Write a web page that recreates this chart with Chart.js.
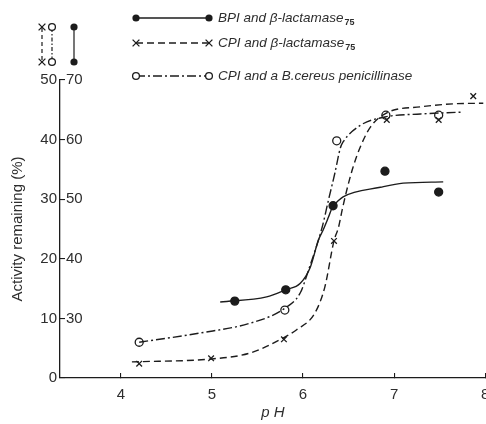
<!DOCTYPE html>
<html><head><meta charset="utf-8">
<script src="https://cdn.jsdelivr.net/npm/chart.js@4"></script>
<style>html,body{margin:0;padding:0;background:#fff}#wrap{width:486px;height:424px;position:relative}</style>
</head><body><div id="wrap"><canvas id="c"></canvas></div>
<script>
// ---- data ----
const seriesNames = ['BPI and \u03B2-lactamase', 'CPI and \u03B2-lactamase', 'CPI and a B.cereus penicillinase'];
const seriesSub = ['75', '75', ''];
// measured points
const bpiPH  = [5.25, 5.81, 6.33, 6.90, 7.49];
const bpiVal = [32.9, 34.8, 48.9, 54.7, 51.2];          // right scale (30-70)
const cpiPH  = [4.20, 4.99, 5.79, 6.34, 6.92, 7.49, 7.87];
const cpiVal = [2.4, 3.3, 6.5, 23.0, 43.3, 43.3, 47.3];  // left scale (0-50)
const cerPH  = [4.20, 5.80, 6.37, 6.91, 7.49];
const cerVal = [6.0, 11.4, 39.8, 44.1, 44.1];           // left scale (0-50)
// fitted curves (traced)
const bpiCurvePH  = [5.09, 5.60, 5.81, 5.97, 6.08, 6.17, 6.22, 6.28, 6.33, 6.37, 6.44, 6.85, 7.10, 7.54];
const bpiCurveVal = [32.75, 33.6, 34.8, 35.9, 38.6, 43.2, 44.8, 47.0, 48.9, 49.5, 50.4, 52.0, 52.7, 52.9];
const cpiCurvePH  = [4.12, 5.00, 5.42, 5.78, 5.93, 6.13, 6.24, 6.34, 6.39, 6.43, 6.48, 6.55, 6.63, 6.74, 6.92, 7.29, 7.65, 7.98];
const cpiCurveVal = [2.7, 3.2, 4.2, 6.7, 8.1, 10.9, 15.3, 23.0, 25.3, 28.2, 31.5, 35.4, 38.8, 42.1, 44.5, 45.5, 46.0, 46.1];
const cerCurvePH  = [4.20, 4.87, 5.42, 5.79, 5.97, 6.06, 6.21, 6.28, 6.35, 6.41, 6.44, 6.63, 6.90, 7.29, 7.73];
const cerCurveVal = [6.0, 7.55, 9.2, 11.6, 14.3, 18.1, 25.3, 29.9, 34.4, 38.6, 39.6, 42.4, 43.8, 44.3, 44.6];
// ticks
const xTicks = [4, 5, 6, 7, 8];
const yLeftTicks = [0, 10, 20, 30, 40, 50];
const yRightTicks = [30, 40, 50, 60, 70];

const INK = '#1c1c1c';
const TXT = '#2e2e2e';
const FONT = '"Liberation Sans", Arial, sans-serif';
const styles = [
  {dash: [], marker: 'filled'},
  {dash: [7, 4], marker: 'cross'},
  {dash: [9, 3, 2, 3], marker: 'open'}
];

function pts(xs, ys){ return xs.map((x,i)=>({x:x, y:ys[i]})); }

function drawMarker(ctx, kind, x, y){
  ctx.save();
  ctx.setLineDash([]);
  ctx.strokeStyle = INK; ctx.fillStyle = INK; ctx.lineWidth = 1.3;
  if (kind === 'filled'){
    ctx.beginPath(); ctx.arc(x, y, 3.6, 0, Math.PI*2); ctx.fill();
  } else if (kind === 'open'){
    ctx.fillStyle = '#fff';
    ctx.beginPath(); ctx.arc(x, y, 3.4, 0, Math.PI*2); ctx.fill(); ctx.stroke();
  } else {
    const r = 3.4;
    ctx.beginPath(); ctx.moveTo(x-r, y-r); ctx.lineTo(x+r, y+r);
    ctx.moveTo(x+r, y-r); ctx.lineTo(x-r, y+r); ctx.stroke();
  }
  ctx.restore();
}

const keyPlugin = {
  id: 'keys',
  afterDraw(chart){
    const ctx = chart.ctx;
    // legend rows
    const rows = [18, 43, 76];
    ctx.save();
    for (let i = 0; i < 3; i++){
      const y = rows[i], x0 = 136, x1 = 209;
      ctx.strokeStyle = INK; ctx.lineWidth = 1.3; ctx.setLineDash(styles[i].dash);
      ctx.beginPath(); ctx.moveTo(x0, y); ctx.lineTo(x1, y); ctx.stroke();
      drawMarker(ctx, styles[i].marker, x0, y);
      drawMarker(ctx, styles[i].marker, x1, y);
      ctx.setLineDash([]);
      ctx.fillStyle = TXT; ctx.textBaseline = 'middle'; ctx.textAlign = 'left';
      ctx.font = 'italic 13.5px ' + FONT;
      ctx.fillText(seriesNames[i], 218, y);
      if (seriesSub[i]){
        const w = ctx.measureText(seriesNames[i]).width;
        ctx.font = 'bold 9px ' + FONT;
        ctx.fillText(seriesSub[i], 218 + w + 1, y + 5);
      }
    }
    // scale keys above the y axis
    const keys = [{x: 42, s: 1}, {x: 52, s: 2}, {x: 74, s: 0}];
    keys.forEach(k => {
      ctx.strokeStyle = INK; ctx.lineWidth = 1.2;
      ctx.setLineDash(k.s === 0 ? [] : (k.s === 1 ? [4, 3] : [4, 2, 1.5, 2]));
      ctx.beginPath(); ctx.moveTo(k.x, 28); ctx.lineTo(k.x, 62); ctx.stroke();
      drawMarker(ctx, styles[k.s].marker, k.x, 27);
      drawMarker(ctx, styles[k.s].marker, k.x, 62);
    });
    ctx.restore();
  }
};

const lineDs = (label, data, axis, dash) => ({
  label, data, yAxisID: axis, showLine: true, borderColor: INK, borderWidth: 1.4,
  borderDash: dash, pointRadius: 0, pointHoverRadius: 0, fill: false,
  cubicInterpolationMode: 'monotone'
});
const ptDs = (label, data, axis, style, fillC) => ({
  label, data, yAxisID: axis, showLine: false, pointStyle: style,
  pointRadius: 4, pointBorderWidth: 1.3, pointBorderColor: INK, pointBackgroundColor: fillC
});

new Chart(document.getElementById('c'), {
  type: 'scatter',
  data: {
    datasets: [
      lineDs('bpi curve', pts(bpiCurvePH, bpiCurveVal), 'y2', []),
      lineDs('cpi curve', pts(cpiCurvePH, cpiCurveVal), 'y', [7, 4]),
      lineDs('cer curve', pts(cerCurvePH, cerCurveVal), 'y', [9, 3, 2, 3]),
      ptDs(seriesNames[0], pts(bpiPH, bpiVal), 'y2', 'circle', INK),
      ptDs(seriesNames[1], pts(cpiPH, cpiVal), 'y', 'crossRot', INK),
      ptDs(seriesNames[2], pts(cerPH, cerVal), 'y', 'circle', '#fff')
    ]
  },
  options: {
    responsive: true, maintainAspectRatio: false, animation: false,
    layout: {autoPadding: false, padding: {top: 80, left: 0, right: 0, bottom: 0}},
    plugins: {legend: {display: false}, tooltip: {enabled: false}},
    scales: {
      x: {
        type: 'linear', min: 3.33, max: 8.01,
        afterBuildTicks: s => { s.ticks = xTicks.map(v => ({value: v})); },
        afterFit: s => { s.height = 46; s.paddingLeft = 0; s.paddingRight = 0; },
        grid: {drawOnChartArea: false, tickLength: -5, color: INK, lineWidth: 1.1},
        border: {color: INK, width: 1.3},
        ticks: {font: {size: 15, family: FONT}, color: TXT, padding: 13, callback: v => String(v)},
        title: {display: true, text: 'p H', font: {size: 15, style: 'italic', family: FONT}, color: TXT, padding: {top: 0, bottom: 2}}
      },
      y: {
        position: 'left', weight: 10, min: 0, max: 50,
        afterBuildTicks: s => { s.ticks = yLeftTicks.map(v => ({value: v})); },
        afterFit: s => { s.width = 60; s.paddingTop = 0; s.paddingBottom = 0; },
        grid: {drawOnChartArea: false, tickLength: -5, color: INK, lineWidth: 1.1},
        border: {color: INK, width: 1.3},
        ticks: {font: {size: 15, family: FONT}, color: TXT, padding: 8, callback: v => String(v)},
        title: {display: true, text: 'Activity remaining (%)', font: {size: 15, family: FONT}, color: TXT, padding: {top: 9, bottom: 0}}
      },
      y2: {
        position: 'left', weight: 0, min: 20, max: 70,
        afterBuildTicks: s => { s.ticks = yRightTicks.map(v => ({value: v})); },
        afterFit: s => { s.width = 0; s.paddingTop = 0; s.paddingBottom = 0; },
        grid: {display: false, drawTicks: false},
        border: {display: false},
        ticks: {mirror: true, padding: 6, font: {size: 15, family: FONT}, color: TXT, callback: v => String(v)}
      }
    }
  },
  plugins: [keyPlugin]
});
</script></body></html>
